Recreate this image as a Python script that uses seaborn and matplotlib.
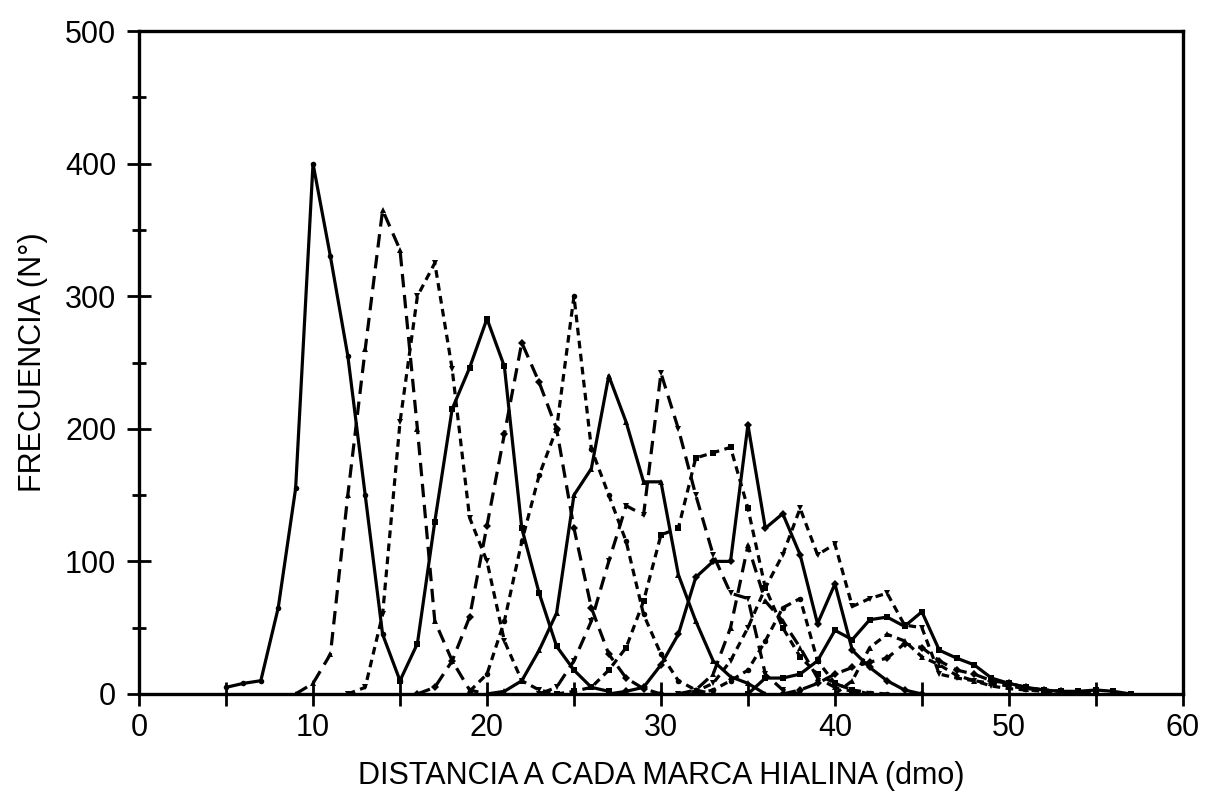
import matplotlib
matplotlib.use("Agg")
import matplotlib.pyplot as plt
from matplotlib.ticker import MultipleLocator
import seaborn as sns
import pandas as pd

# ---- data (frequency per distance, one list per hyaline mark) ----
s1_x0 = 5
s1_y = [5, 8, 10, 65, 155, 400, 330, 255, 150, 45, 10]
s2_x0 = 9
s2_y = [0, 8, 30, 150, 260, 365, 335, 200, 55, 25, 3, 0]
s3_x0 = 12
s3_y = [0, 5, 60, 205, 300, 325, 245, 133, 100, 40, 10, 3, 0]
s4_x0 = 15
s4_y = [10, 38, 130, 215, 246, 283, 247, 125, 76, 36, 18, 5, 2]
s5_x0 = 16
s5_y = [0, 5, 25, 58, 127, 196, 265, 235, 200, 125, 65, 30, 12, 4, 0]
s6_x0 = 19
s6_y = [2, 15, 55, 115, 165, 200, 300, 185, 150, 115, 60, 30, 10, 3, 0]
s7_x0 = 20
s7_y = [0, 2, 10, 33, 61, 150, 170, 240, 205, 160, 160, 90, 55, 25, 13, 8, 0]
s8_x0 = 23
s8_y = [0, 5, 25, 55, 100, 142, 135, 242, 200, 150, 105, 76, 72, 15, 3, 0]
s9_x0 = 24
s9_y = [0, 2, 5, 18, 35, 70, 120, 125, 178, 182, 186, 140, 80, 50, 28, 15, 8, 3, 0]
s10_x0 = 27
s10_y = [0, 2, 5, 22, 45, 88, 100, 100, 203, 125, 136, 105, 53, 83, 33, 20, 10, 3, 0]
s11_x0 = 31
s11_y = [0, 3, 15, 50, 112, 70, 55, 35, 12, 5, 2, 0]
s12_x0 = 31
s12_y = [0, 2, 8, 25, 50, 80, 105, 140, 105, 113, 66, 72, 76, 52, 50, 15, 12, 10, 6, 4, 3, 2, 0]
s13_x0 = 32
s13_y = [0, 3, 10, 18, 40, 65, 72, 25, 8, 3, 1, 0]
s14_x0 = 35
s14_y = [0, 12, 12, 15, 25, 48, 41, 56, 58, 51, 62, 33, 27, 22, 12, 8, 5, 3, 2, 2, 3, 2, 0]
s15_x0 = 37
s15_y = [0, 3, 8, 15, 20, 24, 27, 38, 35, 25, 18, 15, 10, 8, 5, 3, 2, 1, 0]
s16_x0 = 40
s16_y = [0, 10, 35, 45, 40, 28, 22, 14, 10, 8, 6, 4, 3, 2, 0]

x_ticks = [0, 10, 20, 30, 40, 50, 60]
y_ticks = [0, 100, 200, 300, 400, 500]
x_label = "DISTANCIA A CADA MARCA HIALINA (dmo)"
y_label = "FRECUENCIA (N°)"

series = [
    ("M1", s1_x0, s1_y, "solid"),
    ("M2", s2_x0, s2_y, "long"),
    ("M3", s3_x0, s3_y, "short"),
    ("M4", s4_x0, s4_y, "solid"),
    ("M5", s5_x0, s5_y, "long"),
    ("M6", s6_x0, s6_y, "short"),
    ("M7", s7_x0, s7_y, "solid"),
    ("M8", s8_x0, s8_y, "long"),
    ("M9", s9_x0, s9_y, "short"),
    ("M10", s10_x0, s10_y, "solid"),
    ("M11", s11_x0, s11_y, "long"),
    ("M12", s12_x0, s12_y, "short"),
    ("M13", s13_x0, s13_y, "short"),
    ("M14", s14_x0, s14_y, "solid"),
    ("M15", s15_x0, s15_y, "long"),
    ("M16", s16_x0, s16_y, "short"),
]

rows = []
for name, x0, ys, _ in series:
    for i, v in enumerate(ys):
        rows.append({"serie": name, "x": x0 + i, "y": v})
df = pd.DataFrame(rows)

dash_map = {"solid": "", "long": (4.2, 2.4), "short": (2.4, 1.7)}
dashes = {name: dash_map[st] for name, _, _, st in series}
palette = {name: "black" for name, _, _, _ in series}
mk_cycle = ["o", "^", "v", "s", "D", "o", "^", "v", "s", "D", "^", "v", "o", "s", "D", "^"]
markers = {name: m for (name, _, _, _), m in zip(series, mk_cycle)}

sns.set_style("white")
plt.rcParams["font.family"] = ["Liberation Sans", "DejaVu Sans"]
plt.rcParams["text.color"] = "black"
plt.rcParams["axes.labelcolor"] = "black"

fig = plt.figure(figsize=(12.07, 8.02), dpi=100)
ax = fig.add_axes([0.1152, 0.1347, 0.8648, 0.8266])

sns.lineplot(data=df, x="x", y="y", hue="serie", style="serie",
             palette=palette, dashes=dashes, markers=markers,
             markersize=4, markeredgewidth=0, linewidth=2.3, legend=False,
             ax=ax, estimator=None, sort=False)

ax.set_xlim(0, 60)
ax.set_ylim(0, 500)
ax.set_xticks(x_ticks)
ax.set_yticks(y_ticks)
ax.xaxis.set_minor_locator(MultipleLocator(5))
ax.yaxis.set_minor_locator(MultipleLocator(50))
ax.tick_params(axis="both", which="both", bottom=True, left=True,
               top=False, right=False)
ax.tick_params(axis="both", which="major", direction="inout", length=17,
               width=2, labelsize=22, color="black", labelcolor="black")
ax.tick_params(axis="x", which="major", pad=5)
ax.tick_params(axis="y", which="major", pad=8)
ax.tick_params(axis="both", which="minor", direction="inout", length=10,
               width=2, color="black")
ax.tick_params(axis="x", which="minor", length=17)
for sp in ax.spines.values():
    sp.set_visible(True)
    sp.set_linewidth(2.4)
    sp.set_color("black")

ax.set_xlabel(x_label, fontsize=22, labelpad=13, color="black")
ax.set_ylabel(y_label, fontsize=22, labelpad=12, color="black")

fig.savefig("out.png", dpi=100)
